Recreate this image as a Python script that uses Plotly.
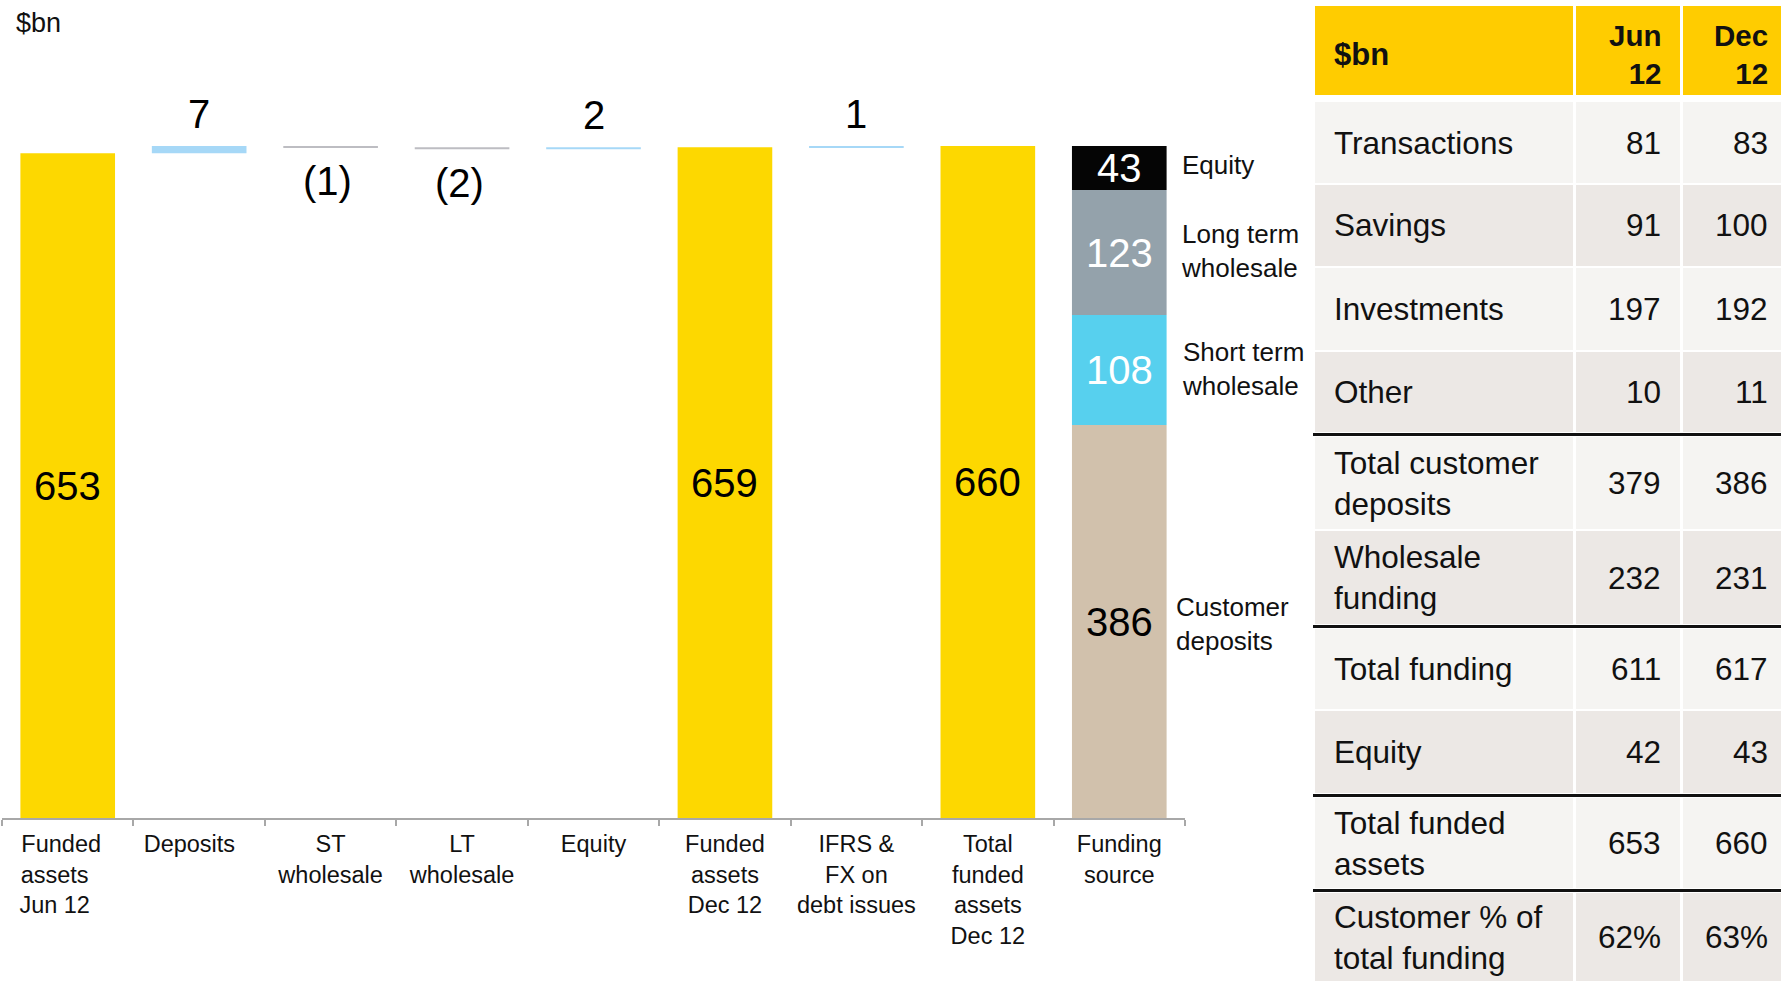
import plotly.graph_objects as go

# ---------------------------------------------------------------- data
NB = "\u00a0"
categories = ["fa_jun", "deposits", "st", "lt", "equity", "fa_dec", "ifrs", "tfa_dec", "funding"]
tick_labels = [
    "Funded" + NB * 2 + "<br>assets" + NB * 4 + "<br>Jun 12" + NB * 4,
    "Deposits" + NB * 3, "ST<br>wholesale", "LT<br>wholesale", "Equity",
    "Funded<br>assets<br>Dec 12", "IFRS &<br>FX on<br>debt issues", "Total<br>funded<br>assets<br>Dec 12",
    "Funding<br>source",
]

start_value = 653                       # funded assets Jun 12
change_cats = ["deposits", "st", "lt", "equity"]
change_values = [7, -1, -2, 2]
ifrs_value = 1                          # IFRS & FX on debt issues

funding_names = ["Customer<br>deposits", "Short term<br>wholesale", "Long term<br>wholesale", "Equity"]
funding_values = [386, 108, 123, 43]

table_header = ["$bn", "Jun<br>12", "Dec<br>12"]
row_labels = ["Transactions", "Savings", "Investments", "Other", "Total customer<br>deposits",
              "Wholesale<br>funding", "Total funding", "Equity", "Total funded<br>assets",
              "Customer % of<br>total funding"]
jun_12 = ["81", "91", "197", "10", "379", "232", "611", "42", "653", "62%"]
dec_12 = ["83", "100", "192", "11", "386", "231", "617", "43", "660", "63%"]

# ---------------------------------------------------------------- styling
W, H = 1781, 981
FONT = "Liberation Sans"
TXT = "#111111"
YELLOW = "#FDD800"
UP = "#A6D8F7"
DOWN = "#BDBDC2"
FUNDING_COLORS = ["#D1C1AC", "#57D0EE", "#94A2AB", "#050505"]
FUNDING_TEXT = ["#000000", "#FFFFFF", "#FFFFFF", "#FFFFFF"]
HEADER_FILL = "#FFCC00"
ROW_LIGHT = "#F5F4F2"
ROW_DARK = "#ECE8E5"


def px_x(p):
    return p / W


def px_y(p):
    return 1 - p / H


# ---------------------------------------------------------------- waterfall levels
levels = []
level = start_value
for v in change_values:
    levels.append(level)
    level += v
mid_total = level
end_total = mid_total + ifrs_value

total_cats = ["fa_jun", "fa_dec", "tfa_dec"]
total_values = [start_value, mid_total, end_total]

delta_cats = change_cats + ["ifrs"]
delta_values = change_values + [ifrs_value]
delta_bases = levels + [mid_total]

funding_bases = []
acc = 0
for v in funding_values:
    funding_bases.append(acc)
    acc += v

BAR_W = 0.72

fig = go.Figure()
fig.add_trace(go.Bar(
    x=total_cats, y=total_values, base=[0] * len(total_values),
    marker=dict(color=YELLOW, line=dict(width=0)), width=BAR_W, hoverinfo="skip",
))
fig.add_trace(go.Bar(
    x=delta_cats, y=delta_values, base=delta_bases,
    marker=dict(color=[UP if v > 0 else DOWN for v in delta_values], line=dict(width=0)),
    width=BAR_W, hoverinfo="skip",
))
fig.add_trace(go.Bar(
    x=["funding"] * len(funding_values), y=funding_values, base=funding_bases,
    marker=dict(color=FUNDING_COLORS, line=dict(width=0)), width=BAR_W, hoverinfo="skip",
))

annotations = []

# value labels on totals
for c, v in zip(total_cats, total_values):
    annotations.append(dict(x=c, y=v / 2, xref="x", yref="y", text=str(v), showarrow=False,
                            font=dict(family=FONT, size=40, color="#000000")))

# value labels on changes
for c, v, b in zip(delta_cats, delta_values, delta_bases):
    if v > 0:
        annotations.append(dict(x=c, y=b + v, xref="x", yref="y", text=str(v), showarrow=False,
                                yshift=32, font=dict(family=FONT, size=40, color="#000000")))
    else:
        annotations.append(dict(x=c, y=b + v, xref="x", yref="y", text="(%d)" % abs(v),
                                showarrow=False, yshift=-34, xshift=-3,
                                font=dict(family=FONT, size=40, color="#000000")))

# funding source segments and their names
name_shift = [55, 61, 60, 61]
name_yshift = [-2, 1, 2, 3]
for name, v, b, col, sh, ys in zip(funding_names, funding_values, funding_bases, FUNDING_TEXT,
                                   name_shift, name_yshift):
    annotations.append(dict(x="funding", y=b + v / 2, xref="x", yref="y", text=str(v),
                            showarrow=False, font=dict(family=FONT, size=40, color=col)))
    annotations.append(dict(x="funding", y=b + v / 2, xref="x", yref="y", text=name,
                            showarrow=False, xanchor="left", align="left", xshift=sh, yshift=ys,
                            font=dict(family=FONT, size=26, color=TXT)))

# unit label
annotations.append(dict(x=px_x(14), y=px_y(23), xref="paper", yref="paper", text="$bn",
                        showarrow=False, xanchor="left", yanchor="middle",
                        font=dict(family=FONT, size=27, color=TXT)))

# ---------------------------------------------------------------- table
shapes = []
col_edges = [(1315, 1573), (1576, 1680), (1683, 1781)]
header_box = (6, 95)
row_tops = [102, 185, 268, 352, 437, 531, 629, 711, 798, 893]
row_bots = [183, 266, 350, 432, 529, 624, 709, 793, 888, 981]
rules = [434.5, 626.5, 795.5, 890.5]
label_x = 1332
num_right = [1663, 1770]


def rect(x0, x1, y0, y1, color):
    return dict(type="rect", xref="paper", yref="paper", layer="below",
                x0=px_x(x0), x1=px_x(x1), y0=px_y(y1), y1=px_y(y0),
                fillcolor=color, line=dict(width=0))


for x0, x1 in col_edges:
    shapes.append(rect(x0, x1, header_box[0], header_box[1], HEADER_FILL))

for i, (t, b) in enumerate(zip(row_tops, row_bots)):
    fill = ROW_LIGHT if i % 2 == 0 else ROW_DARK
    for x0, x1 in col_edges:
        shapes.append(rect(x0, x1, t, b, fill))

for ry in rules:
    shapes.append(dict(type="line", xref="paper", yref="paper",
                       x0=px_x(1313), x1=px_x(1781), y0=px_y(ry), y1=px_y(ry),
                       line=dict(color="#111111", width=3)))

hy = (header_box[0] + header_box[1]) / 2 + 3.5
annotations.append(dict(x=px_x(label_x), y=px_y(hy), xref="paper", yref="paper",
                        text="<b>%s</b>" % table_header[0], showarrow=False,
                        xanchor="left", yanchor="middle",
                        font=dict(family=FONT, size=31, color=TXT)))
for txt, xr in zip(table_header[1:], num_right):
    annotations.append(dict(x=px_x(xr), y=px_y(hy), xref="paper", yref="paper",
                            text="<b>%s</b>" % txt.replace("<br>", "</b><br><b>"),
                            showarrow=False, xanchor="right", yanchor="middle", align="right",
                            font=dict(family=FONT, size=29.5, color=TXT)))

for lab, j, d, t, b in zip(row_labels, jun_12, dec_12, row_tops, row_bots):
    cy = px_y((t + b) / 2)
    annotations.append(dict(x=px_x(label_x), y=cy, xref="paper", yref="paper", text=lab,
                            showarrow=False, xanchor="left", yanchor="middle", align="left",
                            font=dict(family=FONT, size=31.5, color=TXT)))
    for val, xr in zip([j, d], num_right):
        annotations.append(dict(x=px_x(xr), y=cy, xref="paper", yref="paper", text=val,
                                showarrow=False, xanchor="right", yanchor="middle",
                                font=dict(family=FONT, size=31.5, color=TXT)))

# ---------------------------------------------------------------- layout
AXIS_Y = 818
PX_PER_UNIT = 1.018

fig.update_layout(
    width=W, height=H,
    margin=dict(l=0, r=0, t=0, b=0),
    paper_bgcolor="white", plot_bgcolor="white",
    barmode="overlay", showlegend=False,
    font=dict(family=FONT, color=TXT),
    xaxis=dict(
        domain=[px_x(2), px_x(1185)],
        type="category", categoryorder="array", categoryarray=categories,
        tickmode="array", tickvals=categories, ticktext=tick_labels,
        tickson="boundaries", ticks="outside", ticklen=6, tickwidth=2, tickcolor="#A8A8A8",
        showline=True, linecolor="#A8A8A8", linewidth=2,
        showgrid=False, zeroline=False, range=[-0.5, len(categories) - 0.5],
        tickfont=dict(family=FONT, size=23.5, color=TXT),
        ticklabelstandoff=4,
        fixedrange=True,
    ),
    yaxis=dict(
        domain=[px_y(AXIS_Y), 1],
        range=[0, AXIS_Y / PX_PER_UNIT],
        visible=False, showgrid=False, zeroline=False, fixedrange=True,
    ),
    shapes=shapes,
    annotations=annotations,
)

fig.write_html("out.html")
